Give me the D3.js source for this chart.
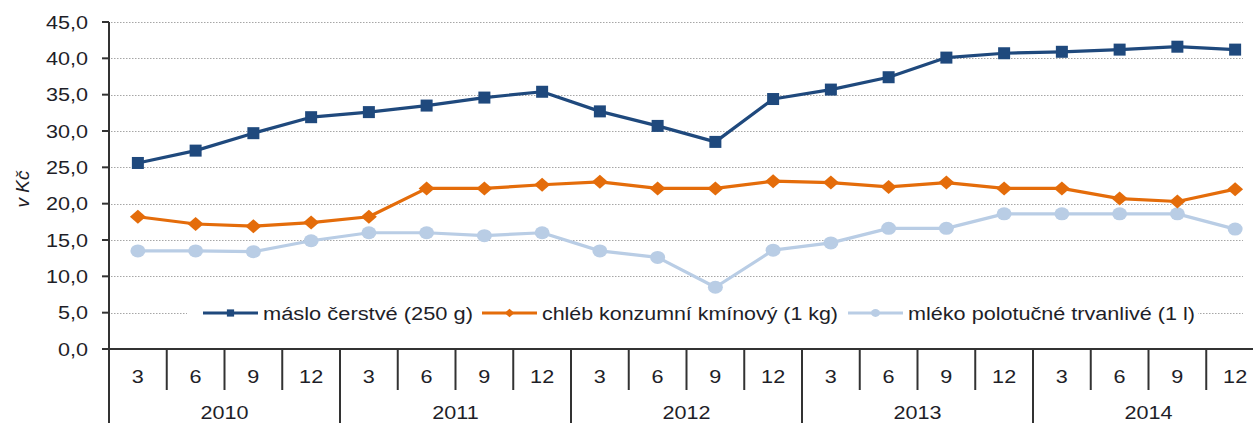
<!DOCTYPE html>
<html>
<head>
<meta charset="utf-8">
<script src="https://cdn.jsdelivr.net/npm/d3@7"></script>
<style>
  html, body { margin: 0; padding: 0; background: #fff; }
  text { font-family: "Liberation Sans", Arial, sans-serif; fill: #1e1e28; }
</style>
</head>
<body>
<svg id="chart" width="1253" height="423"></svg>
<script>
// data
const years = ['2010', '2011', '2012', '2013', '2014'];
const months = ['3', '6', '9', '12'];
const maslo = [25.6, 27.3, 29.7, 31.9, 32.6, 33.5, 34.6, 35.4, 32.7, 30.7, 28.5, 34.4, 35.7, 37.4, 40.1, 40.7, 40.9, 41.2, 41.6, 41.2];
const chleb = [18.2, 17.2, 16.9, 17.4, 18.2, 22.1, 22.1, 22.6, 23.0, 22.1, 22.1, 23.1, 22.9, 22.3, 22.9, 22.1, 22.1, 20.7, 20.3, 22.0];
const mleko = [13.5, 13.5, 13.4, 14.9, 16.0, 16.0, 15.6, 16.0, 13.5, 12.6, 8.5, 13.6, 14.6, 16.6, 16.6, 18.6, 18.6, 18.6, 18.6, 16.5];
const yTicks = [0, 5, 10, 15, 20, 25, 30, 35, 40, 45];
const seriesNames = ['máslo čerstvé (250 g)', 'chléb konzumní kmínový (1 kg)', 'mléko polotučné trvanlivé (1 l)'];

const sx = 1.2; // the picture is stretched horizontally
const svg = d3.select('#chart');

const plotLeft = 109, plotRight = 1264, plotTop = 22, plotBottom = 349;
const periods = d3.range(years.length * months.length);

const x = d3.scaleBand().domain(periods).range([plotLeft, plotRight]);
const y = d3.scaleLinear().domain([0, 45]).range([plotBottom, plotTop]);

const fmt = v => d3.format('.1f')(v).replace('.', ',');

function stretchText (g, tx, ty, str, anchor) {
    return g.append('text')
        .attr('transform', `translate(${tx},${ty}) scale(${sx},1)`)
        .attr('text-anchor', anchor || 'middle')
        .attr('font-size', 18)
        .text(str);
}

// grid
svg.append('g')
    .selectAll('line')
    .data(yTicks.filter(d => d > 0))
    .join('line')
    .attr('x1', plotLeft + 2)
    .attr('x2', 1243)
    .attr('y1', d => Math.round(y(d)) + 0.5)
    .attr('y2', d => Math.round(y(d)) + 0.5)
    .attr('stroke', '#a6a6a6')
    .attr('stroke-width', 1)
    .attr('stroke-dasharray', '1.5,1.5');

// y axis
const yAxis = svg.append('g');
yAxis.append('line')
    .attr('x1', plotLeft).attr('x2', plotLeft)
    .attr('y1', plotTop).attr('y2', 423)
    .attr('stroke', '#333').attr('stroke-width', 2);
yTicks.forEach(t => {
    yAxis.append('line')
        .attr('x1', plotLeft - 7).attr('x2', plotLeft)
        .attr('y1', y(t)).attr('y2', y(t))
        .attr('stroke', '#333').attr('stroke-width', 2);
    stretchText(yAxis, 88, y(t) + 6.5, fmt(t), 'end');
});

yAxis.append('text')
    .attr('transform', `translate(29,189) rotate(-90)`)
    .attr('text-anchor', 'middle')
    .attr('font-size', 19)
    .attr('font-style', 'italic')
    .text('v Kč');

// x axis
const xAxis = svg.append('g');
xAxis.append('line')
    .attr('x1', plotLeft - 7).attr('x2', 1253)
    .attr('y1', plotBottom).attr('y2', plotBottom)
    .attr('stroke', '#333').attr('stroke-width', 2);
periods.forEach(i => {
    const bx = x(i) + x.bandwidth();
    const yearEnd = (i + 1) % months.length === 0;
    xAxis.append('line')
        .attr('x1', bx).attr('x2', bx)
        .attr('y1', plotBottom).attr('y2', yearEnd ? 423 : 390)
        .attr('stroke', '#333').attr('stroke-width', 2);
    stretchText(xAxis, x(i) + x.bandwidth() / 2, 383, months[i % months.length]);
});
years.forEach((yr, k) => {
    const x0 = x(k * months.length);
    const x1 = x0 + x.bandwidth() * months.length;
    stretchText(xAxis, (x0 + x1) / 2, 419, yr);
});

// legend background
svg.append('rect')
    .attr('x', 187).attr('y', 300)
    .attr('width', 1011).attr('height', 26)
    .attr('fill', '#fff');

const series = [
    {values: maslo, color: '#1f497d', marker: 'square'},
    {values: chleb, color: '#e46c0a', marker: 'diamond'},
    {values: mleko, color: '#b9cde5', marker: 'circle'}
];

function drawMarker (g, type, cx, cy, color, s) {
    if (type === 'square') {
        g.append('rect')
            .attr('x', cx - 6 * s).attr('y', cy - 6 * s)
            .attr('width', 12 * s).attr('height', 12 * s)
            .attr('fill', color);
    } else if (type === 'diamond') {
        g.append('path')
            .attr('d', `M${cx},${cy - 7 * s} L${cx + 8 * s},${cy} L${cx},${cy + 7 * s} L${cx - 8 * s},${cy} Z`)
            .attr('fill', color);
    } else {
        g.append('ellipse')
            .attr('cx', cx).attr('cy', cy)
            .attr('rx', 7.5 * s).attr('ry', 6.5 * s)
            .attr('fill', color);
    }
}

const line = d3.line()
    .x((d, i) => x(i) + x.bandwidth() / 2)
    .y(d => y(d));

// lines (light first so dark ones sit on top)
series.slice().reverse().forEach(s => {
    const g = svg.append('g');
    g.append('path')
        .attr('d', line(s.values))
        .attr('fill', 'none')
        .attr('stroke', s.color)
        .attr('stroke-width', 3.2)
        .attr('stroke-linejoin', 'round');
    s.values.forEach((v, i) => drawMarker(g, s.marker, x(i) + x.bandwidth() / 2, y(v), s.color, 1));
});

// legend
const legendX = [203, 482, 848];
const legendWidth = [210, 296, 287];
const legend = svg.append('g');
series.forEach((s, k) => {
    const lx = legendX[k];
    legend.append('line')
        .attr('x1', lx).attr('x2', lx + 55)
        .attr('y1', 313).attr('y2', 313)
        .attr('stroke', s.color).attr('stroke-width', 3.2);
    drawMarker(legend, s.marker, lx + 27.5, 313, s.color, 0.6);
    legend.append('text')
        .attr('x', lx + 60)
        .attr('y', 320)
        .attr('font-size', 18)
        .attr('textLength', legendWidth[k])
        .attr('lengthAdjust', 'spacingAndGlyphs')
        .text(seriesNames[k]);
});
</script>
</body>
</html>
